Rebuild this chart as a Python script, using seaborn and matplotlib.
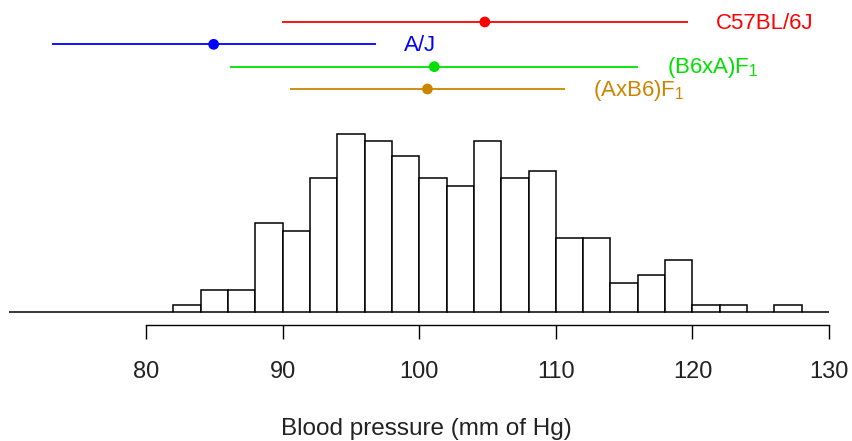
import numpy as np
import pandas as pd
import matplotlib
matplotlib.use("Agg")
import matplotlib.pyplot as plt
import seaborn as sns

# ---- data ----
bin_edges = list(range(70, 132, 2))
counts = [0, 0, 0, 0, 0, 0, 1, 3, 3, 12, 11, 18, 24, 23, 21, 18, 17, 23, 18, 19,
          10, 10, 4, 5, 7, 1, 1, 0, 1, 0]
strains = ["C57BL/6J", "A/J", "(B6xA)F$_\\mathregular{1}$", "(AxB6)F$_\\mathregular{1}$"]
strain_means = [104.8, 84.95, 101.1, 100.6]
strain_lows = [89.95, 73.1, 86.15, 90.55]
strain_highs = [119.65, 96.8, 116.05, 110.65]
strain_colors = ["#FF0000", "#0000FF", "#00E000", "#CD8500"]
x_ticks = [80, 90, 100, 110, 120, 130]
x_label = "Blood pressure (mm of Hg)"

# ---- style ----
sns.set_style("white")
plt.rcParams["font.family"] = ["Liberation Sans", "DejaVu Sans"]
plt.rcParams["mathtext.fontset"] = "custom"
plt.rcParams["mathtext.rm"] = "Liberation Sans"
plt.rcParams["mathtext.it"] = "Liberation Sans"

fig = plt.figure(figsize=(8.52, 4.41), dpi=100)
ax = fig.add_axes([0, (441 - 325) / 441, 1, 325 / 441])

centers = [(bin_edges[i] + bin_edges[i + 1]) / 2 for i in range(len(counts))]
df = pd.DataFrame({"bp": centers, "n": counts})
sns.histplot(data=df, x="bp", weights="n", bins=bin_edges, stat="count",
             color="white", edgecolor="black", linewidth=1.1, alpha=1, ax=ax)

# strain mean +/- range segments
y_top, y_step = 39.0, 3.0
ypos = [y_top - i * y_step for i in range(len(strains))]
for lo, hi, y, c in zip(strain_lows, strain_highs, ypos, strain_colors):
    ax.plot([lo, hi], [y, y], color=c, lw=1.3, solid_capstyle="butt")
pts = pd.DataFrame({"m": strain_means, "y": ypos, "s": strains})
sns.scatterplot(data=pts, x="m", y="y", hue="s", palette=strain_colors,
                s=60, edgecolor="none", legend=False, ax=ax, zorder=3)
for name, hi, y, c in zip(strains, strain_highs, ypos, strain_colors):
    ax.text(hi + 2.1, y - 0.15, name, color=c, fontsize=16, ha="left", va="center")

ax.set_xlim(69.31, 131.68)
ax.set_ylim(-1.68, 41.95)
for s in ["left", "top", "right"]:
    ax.spines[s].set_visible(False)
ax.spines["bottom"].set_bounds(80, 130)
ax.spines["bottom"].set_linewidth(1.0)
ax.spines["bottom"].set_color("black")
ax.set_xticks(x_ticks)
ax.set_xticklabels([str(t) for t in x_ticks])
ax.tick_params(axis="x", direction="out", length=10, width=1.0, pad=16,
               labelsize=17, bottom=True, colors="black")
ax.tick_params(axis="x", labelcolor="#222222")
ax.set_yticks([])
ax.set_ylabel("")
ax.set_xlabel(x_label, fontsize=17.5, color="#222222", labelpad=25)

fig.savefig("out.png", dpi=100)
